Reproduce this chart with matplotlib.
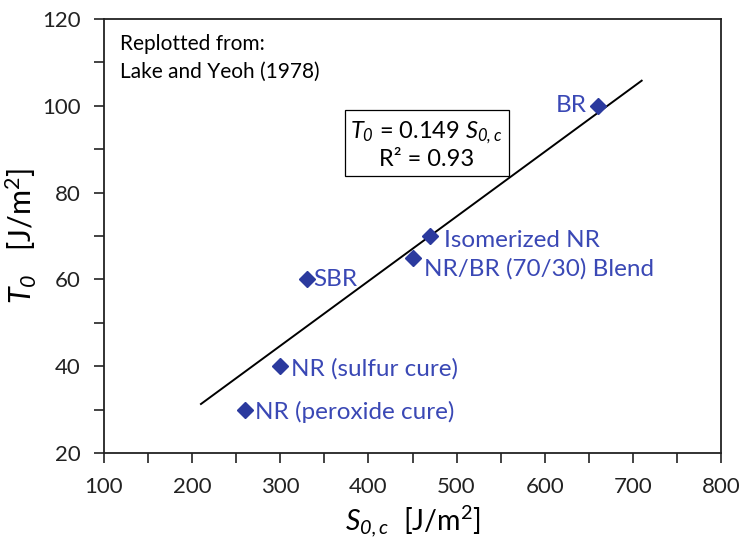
"""Critical tearing energy vs threshold strain energy density for several rubbers."""

import matplotlib

matplotlib.use("Agg")
import matplotlib.pyplot as plt
import numpy as np

# Data (Lake and Yeoh, 1978)
materials = ["NR (peroxide cure)", "NR (sulfur cure)", "SBR",
             "NR/BR (70/30) Blend", "Isomerized NR", "BR"]
s0c = [260, 300, 330, 450, 470, 660]      # J/m^2
t0 = [30, 40, 60, 65, 70, 100]            # J/m^2
slope = 0.149
fit_range = [210, 710]

# label offsets in points (dx, dy, ha)
label_pos = {
    "NR (peroxide cure)": (7, -2, "left"),
    "NR (sulfur cure)": (8, -2, "left"),
    "SBR": (5, 0, "left"),
    "NR/BR (70/30) Blend": (8, -8, "left"),
    "Isomerized NR": (10, -3, "left"),
    "BR": (-8, 0, "right"),
}

C_MARK = "#2b3a9e"
C_TEXT = "#3a48b5"

plt.rcParams["font.family"] = ["Lato", "DejaVu Sans"]
# symbols (T, S and their subscripts) are all set in italic
plt.rcParams["mathtext.fontset"] = "custom"
plt.rcParams["mathtext.it"] = "Lato:italic"
plt.rcParams["mathtext.rm"] = "Lato:italic"

fig = plt.figure(figsize=(7.41, 5.43), dpi=100)
ax = fig.add_axes([104 / 741, 1 - 453 / 543, 617 / 741, 434 / 543])

xf = np.array(fit_range)
ax.plot(xf, slope * xf, color="black", linewidth=1.4, zorder=2)
ax.plot(s0c, t0, "D", color=C_MARK, markersize=8, zorder=3)

for name, x, y in zip(materials, s0c, t0):
    dx, dy, ha = label_pos[name]
    ax.annotate(name, (x, y), xytext=(dx, dy), textcoords="offset points",
                ha=ha, va="center", color=C_TEXT, fontsize=17.5)

ax.text(466, 91, r"$T_0$ = 0.149 $S_{0,c}$" + "\nR² = 0.93",
        ha="center", va="center", fontsize=17, linespacing=1.2,
        bbox=dict(boxstyle="square,pad=0.25", facecolor="white",
                  edgecolor="black", linewidth=0.9))

ax.text(0.026, 0.965, "Replotted from:\nLake and Yeoh (1978)",
        transform=ax.transAxes, ha="left", va="top", fontsize=15,
        linespacing=1.5)

ax.set_xlim(100, 800)
ax.set_ylim(20, 120)
ax.set_xticks(np.arange(100, 801, 50))
ax.set_xticklabels([str(v) if v % 100 == 0 else "" for v in range(100, 801, 50)])
ax.set_yticks(np.arange(20, 121, 10))
ax.set_yticklabels([str(v) if v % 20 == 0 else "" for v in range(20, 121, 10)])
ax.tick_params(direction="out", length=7, width=1.2, labelsize=16, pad=10,
               colors="#222222")

for s in ax.spines.values():
    s.set_linewidth(1.3)
    s.set_color("#222222")

unit = r"[J/m$^{\mathregular{2}}$]"
ax.set_xlabel(r"$S_{0,c}$  " + unit, fontsize=20.5, labelpad=5)
ax.set_ylabel(r"$T_0$   " + unit, fontsize=22, labelpad=2)

fig.savefig("out.png", dpi=100)
